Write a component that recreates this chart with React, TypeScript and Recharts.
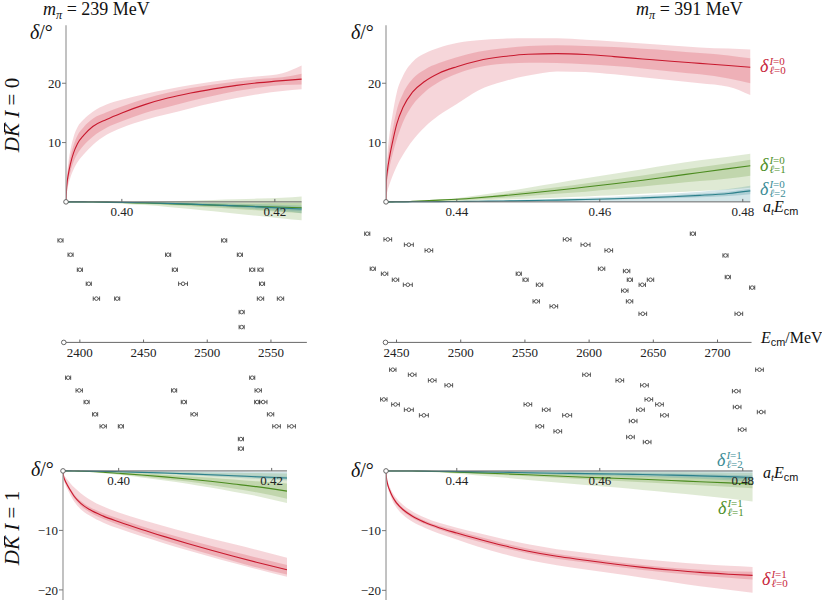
import React from "react";
import {
  Area,
  ComposedChart,
  ErrorBar,
  Line,
  ReferenceDot,
  ReferenceLine,
  Scatter,
  ScatterChart,
  XAxis,
  YAxis,
} from "recharts";

const SERIF = '"Liberation Serif", "DejaVu Serif", serif';
const SANS = '"Liberation Sans", "DejaVu Sans", sans-serif';

// ---------- phase shifts: a_t E_cm grid + centre / 1σ / 2σ bands ----------
// m_pi = 239 MeV, I = 0
const tlX = [0.3927, 0.3928, 0.393, 0.3933, 0.3937, 0.3942, 0.395, 0.3962, 0.398, 0.4, 0.403, 0.406, 0.409, 0.412, 0.415, 0.418, 0.421, 0.4235];
const tlRed = {
  mid: [0, 2.6, 4.6, 6.5, 8.3, 9.8, 11.2, 12.7, 13.9, 15.0, 16.4, 17.5, 18.35, 19.05, 19.65, 20.1, 20.45, 20.7],
  lo2: [0, 1.6, 2.9, 4.2, 5.5, 6.7, 8.0, 9.6, 11.3, 12.5, 13.8, 14.8, 15.8, 16.7, 17.5, 18.2, 18.7, 19.0],
  lo1: [0, 2.0, 3.6, 5.2, 6.8, 8.1, 9.5, 11.0, 12.5, 13.6, 15.0, 16.0, 17.0, 17.9, 18.7, 19.3, 19.7, 19.8],
  hi1: [0, 3.2, 5.6, 7.7, 9.6, 11.2, 12.6, 14.0, 15.1, 16.1, 17.4, 18.4, 19.2, 19.8, 20.3, 20.7, 21.0, 21.6],
  hi2: [0, 3.8, 6.5, 8.9, 11.0, 12.6, 13.9, 15.2, 16.4, 17.2, 18.2, 19.0, 19.7, 20.3, 20.8, 21.2, 21.7, 23.0],
};
const tlGreen = {
  mid: [0, 0, 0, 0, 0, 0, -0.01, -0.02, -0.05, -0.1, -0.2, -0.3, -0.42, -0.55, -0.68, -0.8, -0.92, -1.0],
  lo2: [0, 0, 0, 0, 0, -0.01, -0.03, -0.07, -0.15, -0.3, -0.55, -0.85, -1.2, -1.6, -2.0, -2.4, -2.8, -3.1],
  lo1: [0, 0, 0, 0, 0, 0, -0.02, -0.04, -0.09, -0.18, -0.35, -0.52, -0.72, -0.95, -1.2, -1.45, -1.7, -1.9],
  hi1: [0, 0, 0, 0, 0, 0, 0, -0.01, -0.02, -0.04, -0.08, -0.12, -0.16, -0.2, -0.22, -0.22, -0.2, -0.15],
  hi2: [0, 0, 0, 0, 0, 0, 0, 0, 0, 0.02, 0.06, 0.12, 0.2, 0.3, 0.42, 0.55, 0.7, 0.9],
};
const tlTeal = {
  mid: [0, 0, 0, 0, 0, 0, -0.01, -0.02, -0.04, -0.08, -0.16, -0.26, -0.38, -0.52, -0.68, -0.85, -1.05, -1.2],
  lo2: [0, 0, 0, 0, 0, 0, -0.02, -0.04, -0.07, -0.13, -0.25, -0.4, -0.58, -0.8, -1.05, -1.3, -1.6, -1.9],
  lo1: [0, 0, 0, 0, 0, 0, -0.015, -0.03, -0.055, -0.1, -0.2, -0.33, -0.48, -0.66, -0.86, -1.07, -1.32, -1.55],
  hi1: [0, 0, 0, 0, 0, 0, -0.005, -0.01, -0.025, -0.06, -0.12, -0.2, -0.29, -0.4, -0.52, -0.65, -0.8, -0.9],
  hi2: [0, 0, 0, 0, 0, 0, 0, 0, -0.01, -0.03, -0.07, -0.12, -0.18, -0.25, -0.33, -0.42, -0.52, -0.6],
};

// m_pi = 239 MeV, I = 1
const blX = [0.39272, 0.3928, 0.393, 0.3933, 0.3937, 0.3942, 0.395, 0.3962, 0.398, 0.4, 0.403, 0.406, 0.409, 0.412, 0.415, 0.418, 0.422];
const blRed = {
  mid: [0, -0.9, -1.65, -2.4, -3.3, -4.3, -5.4, -6.5, -7.6, -8.55, -9.85, -11.05, -12.2, -13.3, -14.35, -15.35, -16.6],
  lo2: [0, -1.3, -2.2, -3.1, -4.1, -5.2, -6.4, -7.5, -8.7, -9.7, -11.0, -12.2, -13.35, -14.45, -15.5, -16.5, -17.8],
  lo1: [0, -1.0, -1.85, -2.7, -3.6, -4.65, -5.8, -6.95, -8.1, -9.1, -10.45, -11.7, -12.9, -14.05, -15.15, -16.2, -17.4],
  hi1: [0, -0.8, -1.45, -2.1, -3.0, -3.95, -5.0, -6.05, -7.1, -8.0, -9.3, -10.45, -11.55, -12.6, -13.6, -14.55, -15.8],
  hi2: [0, -0.5, -1.0, -1.5, -2.1, -2.8, -3.7, -4.8, -6.0, -7.0, -8.2, -9.3, -10.35, -11.35, -12.3, -13.25, -14.6],
};
const blGreen = {
  mid: [0, 0, 0, 0, -0.01, -0.02, -0.05, -0.1, -0.22, -0.4, -0.68, -1.0, -1.35, -1.75, -2.2, -2.65, -3.4],
  lo2: [0, 0, 0, 0, -0.02, -0.04, -0.09, -0.18, -0.38, -0.65, -1.1, -1.6, -2.15, -2.8, -3.5, -4.2, -5.4],
  lo1: [0, 0, 0, 0, -0.015, -0.03, -0.07, -0.14, -0.3, -0.55, -0.92, -1.35, -1.8, -2.35, -2.95, -3.6, -4.7],
  hi1: [0, 0, 0, 0, -0.005, -0.01, -0.03, -0.07, -0.15, -0.27, -0.45, -0.65, -0.9, -1.15, -1.45, -1.75, -2.1],
  hi2: [0, 0, 0, 0, 0, 0, -0.01, -0.02, -0.04, -0.07, -0.11, -0.15, -0.2, -0.25, -0.3, -0.35, -0.45],
};
const blTeal = {
  mid: [0, 0, 0, 0, 0, -0.01, -0.02, -0.04, -0.08, -0.14, -0.24, -0.36, -0.5, -0.65, -0.82, -0.98, -1.2],
  lo2: [0, 0, 0, 0, 0, -0.01, -0.03, -0.06, -0.12, -0.2, -0.34, -0.5, -0.68, -0.88, -1.1, -1.32, -1.6],
  lo1: [0, 0, 0, 0, 0, -0.01, -0.025, -0.05, -0.1, -0.17, -0.29, -0.43, -0.59, -0.77, -0.96, -1.15, -1.4],
  hi1: [0, 0, 0, 0, 0, 0, -0.015, -0.03, -0.06, -0.11, -0.19, -0.29, -0.41, -0.53, -0.68, -0.81, -1.0],
  hi2: [0, 0, 0, 0, 0, 0, 0, 0, -0.01, -0.02, -0.04, -0.06, -0.08, -0.1, -0.12, -0.14, -0.16],
};

// m_pi = 391 MeV, I = 0
const trX = [0.4301, 0.43015, 0.4303, 0.4306, 0.431, 0.4316, 0.4325, 0.4338, 0.4355, 0.4375, 0.44, 0.443, 0.4465, 0.45, 0.454, 0.458, 0.462, 0.466, 0.47, 0.474, 0.478, 0.48105];
const trRed = {
  mid: [0, 3.5, 5.3, 7.6, 10.0, 13.1, 16.0, 18.5, 20.3, 21.7, 22.8, 23.8, 24.5, 24.9, 25.0, 24.85, 24.5, 24.1, 23.7, 23.35, 23.0, 22.7],
  lo2: [0, 1.0, 1.8, 3.0, 4.3, 6.0, 8.0, 10.3, 12.6, 14.6, 16.5, 18.8, 20.3, 21.3, 22.0, 21.9, 21.5, 21.0, 20.5, 20.0, 19.4, 18.0],
  lo1: [0, 2.5, 4.0, 5.9, 7.9, 10.5, 13.5, 16.3, 18.5, 20.2, 21.6, 22.7, 23.3, 23.45, 23.4, 23.2, 22.9, 22.5, 22.0, 21.5, 20.8, 20.0],
  hi1: [0, 4.2, 6.5, 9.3, 12.0, 15.4, 18.3, 20.7, 22.3, 23.4, 24.4, 25.3, 25.9, 26.3, 26.4, 26.3, 26.1, 25.8, 25.5, 25.1, 24.7, 24.2],
  hi2: [0, 5.0, 8.0, 11.5, 14.6, 18.4, 21.3, 23.6, 25.0, 26.0, 26.8, 27.25, 27.5, 27.6, 27.6, 27.35, 27.05, 26.7, 26.35, 26.05, 25.85, 25.7],
};
const trGreen = {
  mid: [0, 0, 0, 0, 0, 0.01, 0.03, 0.08, 0.17, 0.3, 0.45, 0.7, 1.05, 1.45, 1.95, 2.5, 3.05, 3.65, 4.3, 4.95, 5.6, 6.1],
  lo2: [0, 0, 0, 0, 0, 0, 0.01, 0.03, 0.06, 0.1, 0.15, 0.25, 0.38, 0.52, 0.7, 0.9, 1.1, 1.35, 1.6, 1.85, 2.1, 2.4],
  lo1: [0, 0, 0, 0, 0, 0.005, 0.02, 0.05, 0.1, 0.18, 0.28, 0.45, 0.7, 0.98, 1.35, 1.72, 2.15, 2.6, 3.05, 3.5, 3.95, 4.4],
  hi1: [0, 0, 0, 0, 0.005, 0.015, 0.04, 0.1, 0.21, 0.36, 0.52, 0.85, 1.3, 1.85, 2.45, 3.1, 3.75, 4.45, 5.15, 5.85, 6.5, 7.1],
  hi2: [0, 0, 0, 0, 0.01, 0.02, 0.05, 0.12, 0.25, 0.42, 0.62, 1.1, 1.7, 2.4, 3.2, 4.0, 4.75, 5.5, 6.3, 7.0, 7.6, 8.1],
};
const trTeal = {
  mid: [0, 0, 0, 0, 0, 0, 0, 0.01, 0.02, 0.04, 0.07, 0.1, 0.15, 0.21, 0.3, 0.4, 0.52, 0.68, 0.87, 1.1, 1.42, 1.85],
  lo2: [0, 0, 0, 0, 0, 0, 0, 0, 0, 0, 0, 0, 0, 0, 0, 0, 0, 0, 0, 0, 0, 0],
  lo1: [0, 0, 0, 0, 0, 0, 0, 0.005, 0.01, 0.02, 0.04, 0.06, 0.09, 0.13, 0.19, 0.26, 0.35, 0.47, 0.6, 0.78, 1.0, 1.3],
  hi1: [0, 0, 0, 0, 0, 0, 0.005, 0.015, 0.03, 0.055, 0.09, 0.13, 0.2, 0.28, 0.39, 0.52, 0.67, 0.86, 1.08, 1.35, 1.72, 2.2],
  hi2: [0, 0, 0, 0, 0, 0, 0.01, 0.02, 0.04, 0.07, 0.12, 0.18, 0.27, 0.38, 0.52, 0.68, 0.87, 1.1, 1.38, 1.7, 2.15, 2.7],
};

// m_pi = 391 MeV, I = 1
const brX = [0.4301, 0.43015, 0.4303, 0.4306, 0.431, 0.4316, 0.4325, 0.4338, 0.4355, 0.4375, 0.44, 0.443, 0.4465, 0.45, 0.454, 0.458, 0.462, 0.466, 0.47, 0.474, 0.478, 0.48137];
const brRed = {
  mid: [0, -1.0, -2.1, -3.2, -4.3, -5.4, -6.5, -7.6, -8.6, -9.5, -10.4, -11.4, -12.5, -13.45, -14.3, -14.95, -15.6, -16.15, -16.6, -17.0, -17.3, -17.5],
  lo2: [0, -1.3, -2.6, -3.8, -5.0, -6.2, -7.4, -8.5, -9.5, -10.5, -11.5, -12.7, -13.9, -14.9, -15.8, -16.5, -17.2, -17.9, -18.6, -19.3, -19.9, -20.4],
  lo1: [0, -1.1, -2.3, -3.4, -4.6, -5.7, -6.8, -7.9, -8.9, -9.8, -10.8, -11.8, -12.9, -13.85, -14.7, -15.35, -16.0, -16.6, -17.1, -17.5, -17.9, -18.2],
  hi1: [0, -0.9, -1.9, -3.0, -4.0, -5.1, -6.2, -7.3, -8.3, -9.2, -10.0, -11.0, -12.1, -13.05, -13.9, -14.55, -15.2, -15.75, -16.2, -16.55, -16.8, -16.9],
  hi2: [0, -0.7, -1.6, -2.6, -3.6, -4.6, -5.7, -6.8, -7.8, -8.7, -9.5, -10.4, -11.4, -12.3, -13.1, -13.7, -14.3, -14.8, -15.2, -15.6, -15.9, -16.1],
};
const brGreen = {
  mid: [0, 0, 0, 0, 0, 0, -0.01, -0.02, -0.05, -0.1, -0.2, -0.32, -0.48, -0.65, -0.85, -1.05, -1.22, -1.4, -1.6, -1.8, -2.0, -2.2],
  lo2: [0, 0, 0, 0, 0, 0, -0.02, -0.05, -0.12, -0.25, -0.45, -0.75, -1.1, -1.5, -1.95, -2.35, -2.75, -3.2, -3.65, -4.1, -4.6, -5.1],
  lo1: [0, 0, 0, 0, 0, 0, -0.01, -0.03, -0.07, -0.15, -0.28, -0.45, -0.67, -0.9, -1.15, -1.4, -1.65, -1.9, -2.15, -2.4, -2.65, -2.9],
  hi1: [0, 0, 0, 0, 0, 0, 0, -0.01, -0.03, -0.06, -0.12, -0.2, -0.3, -0.4, -0.52, -0.63, -0.74, -0.85, -0.95, -1.05, -1.13, -1.2],
  hi2: [0, 0, 0, 0, 0, 0, 0, 0, 0, -0.01, -0.02, -0.04, -0.06, -0.09, -0.12, -0.15, -0.18, -0.21, -0.24, -0.27, -0.29, -0.3],
};
const brTeal = {
  mid: [0, 0, 0, 0, 0, 0, 0, -0.01, -0.03, -0.06, -0.1, -0.15, -0.22, -0.3, -0.38, -0.45, -0.52, -0.6, -0.7, -0.82, -0.96, -1.1],
  lo2: [0, 0, 0, 0, 0, 0, 0, -0.02, -0.05, -0.1, -0.18, -0.27, -0.38, -0.5, -0.62, -0.74, -0.86, -0.99, -1.14, -1.32, -1.55, -1.8],
  lo1: [0, 0, 0, 0, 0, 0, 0, -0.015, -0.04, -0.08, -0.14, -0.21, -0.3, -0.4, -0.5, -0.6, -0.69, -0.8, -0.92, -1.07, -1.25, -1.45],
  hi1: [0, 0, 0, 0, 0, 0, 0, -0.005, -0.02, -0.04, -0.06, -0.09, -0.14, -0.2, -0.26, -0.3, -0.35, -0.4, -0.48, -0.57, -0.67, -0.75],
  hi2: [0, 0, 0, 0, 0, 0, 0, 0, 0, 0, 0, 0, 0, 0, 0, 0, 0, 0, 0, 0, 0, 0],
};

// ---------- finite-volume levels: [E_cm / MeV, row, error] ----------
const levelsL0 = [
  [2384.8, 7.13, 2], [2513.3, 7.13, 2],
  [2392.7, 6.13, 2], [2469.3, 6.13, 2], [2525.6, 6.13, 2],
  [2400.0, 5.08, 2], [2474.6, 5.08, 2], [2535.3, 5.08, 2], [2541.8, 5.08, 2],
  [2407.0, 4.1, 2], [2481.0, 4.1, 3.5], [2543.0, 4.1, 2],
  [2413.0, 3.06, 2.5], [2429.3, 3.06, 2], [2541.8, 3.06, 2.5], [2557.5, 3.06, 2.5],
  [2527.0, 2.12, 2], [2527.0, 1.07, 2],
];
const levelsL1 = [
  [2390.8, -2.47, 2], [2535.3, -2.47, 2],
  [2399.5, -3.36, 2.5], [2474.0, -3.36, 2], [2540.0, -3.36, 2.5],
  [2405.3, -4.17, 2], [2481.6, -4.17, 2], [2539.2, -4.17, 2], [2543.9, -4.17, 3],
  [2412.0, -5.03, 2], [2489.7, -5.03, 2.5], [2549.7, -5.03, 2.5],
  [2418.3, -5.87, 2.5], [2432.2, -5.87, 2], [2554.4, -5.87, 3], [2566.2, -5.87, 3],
  [2526.4, -6.76, 2], [2526.4, -7.43, 2],
];
const levelsR0 = [
  [2427.2, 7.6, 2], [2443.2, 7.2, 3], [2459.6, 6.83, 3.5], [2475.2, 6.43, 3],
  [2582.9, 7.2, 3], [2597.2, 6.83, 3.5], [2615.3, 6.43, 3], [2680.8, 7.6, 2], [2706.2, 6.08, 2],
  [2431.5, 5.15, 2], [2440.7, 4.8, 2.5], [2449.2, 4.38, 2.5], [2458.8, 4.03, 3.5],
  [2545.2, 4.8, 2], [2550.5, 4.38, 2], [2561.4, 4.03, 2.5], [2558.8, 2.87, 2.5], [2572.5, 2.52, 3],
  [2609.7, 5.15, 2.5], [2629.2, 4.99, 2.5], [2631.7, 4.38, 2], [2627.8, 3.62, 2.5], [2631.5, 2.87, 2.5],
  [2641.4, 4.03, 2.5], [2647.8, 4.38, 2.5], [2641.8, 2.0, 3], [2708.0, 4.57, 2], [2727.0, 3.83, 2], [2716.6, 2.0, 3],
];
const levelsR1 = [
  [2447.1, -1.91, 2.5], [2462.2, -2.26, 3], [2477.8, -2.66, 3], [2490.7, -3.0, 3],
  [2598.0, -2.26, 3], [2623.9, -2.66, 3], [2643.1, -3.0, 3], [2732.7, -1.91, 3], [2714.6, -3.41, 3],
  [2440.1, -3.99, 2.5], [2449.2, -4.34, 3], [2459.6, -4.71, 3.5], [2471.3, -5.1, 3.5],
  [2552.3, -4.34, 3], [2566.6, -4.71, 3], [2582.9, -5.1, 3.5], [2561.6, -5.87, 3], [2575.6, -6.22, 3],
  [2646.5, -3.99, 3], [2654.8, -4.34, 3], [2640.0, -4.71, 3], [2658.7, -5.1, 3], [2634.3, -5.5, 3],
  [2632.2, -6.62, 3], [2645.2, -6.97, 3], [2715.3, -4.52, 3], [2734.0, -4.87, 3], [2719.2, -6.1, 3],
];

const aTicks239 = [0.4, 0.42];
const aTicks391 = [0.44, 0.46, 0.48];
const eTicks239 = [2400, 2450, 2500, 2550];
const eTicks391 = [2450, 2500, 2550, 2600, 2650, 2700];

const COLORS = {
  green: { line: "#4b8b1f", fill: "rgb(110,160,60)", text: "#4e8f2a" },
  teal: { line: "#2c808b", fill: "rgb(60,140,155)", text: "#3b8c96" },
  red: { line: "#c8192e", fill: "rgb(215,70,85)", text: "#c8283c" },
};
const KEYS = ["green", "teal", "red"] as const;

type Curve = { mid: number[]; lo2: number[]; lo1: number[]; hi1: number[]; hi2: number[] };

function table(xs: number[], curves: Record<string, Curve>) {
  return xs.map((x, i) => {
    const row: Record<string, unknown> = { x };
    Object.entries(curves).forEach(([k, c]) => {
      row[k] = c.mid[i];
      row[k + "Out"] = [c.lo2[i], c.hi2[i]];
      row[k + "In"] = [c.lo1[i], c.hi1[i]];
    });
    return row;
  });
}

// pixel placement: origin (ox, oy), px per unit (kx, ky)
type Geo = {
  ox: number; oy: number; x0: number; x1: number; kx: number; ky: number;
  dom: [number, number]; ymin: number; ymax: number; yEnd: number; axisW: number;
};

function place(g: Geo) {
  const plotLeft = g.ox + (g.dom[0] - g.x0) * g.kx;
  return {
    left: plotLeft - g.axisW,
    top: g.oy - g.ymax * g.ky,
    width: (g.dom[1] - g.dom[0]) * g.kx + g.axisW,
    height: (g.ymax - g.ymin) * g.ky,
  };
}

const minus = (v: number) => (v < 0 ? `\u2212${Math.abs(v)}` : `${v}`);

function axisMarks(g: Geo, ticks: number[], tickLen: number, fmt: (v: number) => string, yAxis: boolean) {
  const items = [
    <ReferenceLine key="xaxis" segment={[{ x: g.x0, y: 0 }, { x: g.x1, y: 0 }]} stroke="#666" strokeWidth={1} />,
    ...ticks.map((t) => (
      <ReferenceLine
        key={"t" + t}
        segment={[{ x: t, y: 0 }, { x: t, y: tickLen }]}
        stroke="#666"
        strokeWidth={1}
        label={{ value: fmt(t), position: "bottom", offset: 5, fill: "#222", fontSize: 13, fontFamily: SERIF }}
      />
    )),
  ];
  if (yAxis) {
    items.push(
      <ReferenceLine key="yaxis" segment={[{ x: g.x0, y: 0 }, { x: g.x0, y: g.yEnd }]} stroke="#999" strokeWidth={1.2} />
    );
  }
  items.push(<ReferenceDot key="origin" x={g.x0} y={0} r={2.3} fill="#fff" stroke="#555" strokeWidth={0.9} />);
  return items;
}

function PhasePanel({ g, xs, curves, xTicks, yTicks }: { g: Geo; xs: number[]; curves: Record<string, Curve>; xTicks: number[]; yTicks: number[] }) {
  const box = place(g);
  const data = table(xs, curves);
  return (
    <div style={{ position: "absolute", left: box.left, top: box.top }}>
      <ComposedChart width={box.width} height={box.height} data={data} margin={{ top: 0, right: 0, bottom: 0, left: 0 }}>
        <XAxis type="number" dataKey="x" domain={g.dom} allowDataOverflow hide />
        <YAxis
          type="number"
          domain={[g.ymin, g.ymax]}
          allowDataOverflow
          width={g.axisW}
          ticks={yTicks}
          interval={0}
          axisLine={false}
          tickSize={4}
          tickMargin={1}
          tickLine={{ stroke: "#777" }}
          tick={{ fontSize: 13, fontFamily: SERIF, fill: "#222" }}
          tickFormatter={minus}
        />
        {KEYS.flatMap((k) => [
          <Area key={k + "o"} type="monotone" dataKey={k + "Out"} stroke="none" fill={COLORS[k].fill} fillOpacity={0.22} isAnimationActive={false} />,
          <Area key={k + "i"} type="monotone" dataKey={k + "In"} stroke="none" fill={COLORS[k].fill} fillOpacity={0.26} isAnimationActive={false} />,
        ])}
        {KEYS.map((k) => (
          <Line key={k} type="monotone" dataKey={k} stroke={COLORS[k].line} strokeWidth={1.1} dot={false} isAnimationActive={false} />
        ))}
        {axisMarks(g, xTicks, 0.5, (v) => v.toFixed(2), true)}
      </ComposedChart>
    </div>
  );
}

const ring = (p: any) => <circle cx={p.cx} cy={p.cy} r={1.8} fill="#fff" stroke="#333" strokeWidth={0.8} />;

function LevelPanel({ g, upper, lower, ticks }: { g: Geo; upper: number[][]; lower: number[][]; ticks: number[] }) {
  const box = place(g);
  const pts = (a: number[][]) => a.map(([e, row, err]) => ({ e, row, err }));
  return (
    <div style={{ position: "absolute", left: box.left, top: box.top }}>
      <ScatterChart width={box.width} height={box.height} margin={{ top: 0, right: 0, bottom: 0, left: 0 }}>
        <XAxis type="number" dataKey="e" domain={g.dom} allowDataOverflow hide />
        <YAxis type="number" dataKey="row" domain={[g.ymin, g.ymax]} allowDataOverflow hide />
        {axisMarks(g, ticks, 0.2, (v) => String(v), false)}
        {[upper, lower].map((lv, i) => (
          <Scatter key={i} data={pts(lv)} shape={ring} isAnimationActive={false}>
            <ErrorBar dataKey="err" direction="x" width={2.2} strokeWidth={0.8} stroke="#333" />
          </Scatter>
        ))}
      </ScatterChart>
    </div>
  );
}

const gTL: Geo = { ox: 66, oy: 202, x0: 0.3927, x1: 0.4235, kx: 7650, ky: 5.93, dom: [0.3927, 0.4245], ymin: -4.5, ymax: 30.5, yEnd: 29.8, axisW: 44 };
const gTR: Geo = { ox: 385.7, oy: 202, x0: 0.4301, x1: 0.48105, kx: 7150, ky: 5.93, dom: [0.4301, 0.4825], ymin: -4.5, ymax: 30.5, yEnd: 29.8, axisW: 44 };
const gBL: Geo = { ox: 63.3, oy: 471, x0: 0.39272, x1: 0.422, kx: 7650, ky: 5.95, dom: [0.39272, 0.4235], ymin: -21.9, ymax: 2, yEnd: -21.7, axisW: 44 };
const gBR: Geo = { ox: 385.7, oy: 471, x0: 0.4301, x1: 0.48137, kx: 7150, ky: 5.97, dom: [0.4301, 0.4825], ymin: -21.9, ymax: 2, yEnd: -21.6, axisW: 44 };
const gEL: Geo = { ox: 64, oy: 342, x0: 2387.4, x1: 2578.2, kx: 1.274, ky: 14.3, dom: [2375, 2590], ymin: -8, ymax: 8, yEnd: 0, axisW: 0 };
const gER: Geo = { ox: 385, oy: 342, x0: 2441.4, x1: 2726.5, kx: 1.284, ky: 14.3, dom: [2420, 2745], ymin: -8, ymax: 8, yEnd: 0, axisW: 0 };

const abs = (left: number, top: number, extra: React.CSSProperties = {}): React.CSSProperties => ({
  position: "absolute", left, top, whiteSpace: "nowrap", fontFamily: SERIF, color: "#111", ...extra,
});

function Sub({ children, sans }: { children: React.ReactNode; sans?: boolean }) {
  return (
    <span style={{ fontSize: "0.68em", position: "relative", top: "0.3em", fontFamily: sans ? SANS : SERIF, fontStyle: sans ? "normal" : "italic" }}>
      {children}
    </span>
  );
}

function DeltaLabel({ left, top, iso, wave, color }: { left: number; top: number; iso: number; wave: number; color: string }) {
  return (
    <div style={abs(left, top, { color, display: "flex", alignItems: "center", height: 18 })}>
      <span style={{ fontStyle: "italic", fontSize: 18, lineHeight: "18px" }}>δ</span>
      <span style={{ display: "flex", flexDirection: "column", fontSize: 11, lineHeight: "9px", marginLeft: 1 }}>
        <span><i>I</i>={iso}</span>
        <span><i>ℓ</i>={wave}</span>
      </span>
    </div>
  );
}

function Channel({ cy, iso }: { cy: number; iso: number }) {
  return (
    <div style={abs(12, cy, { transform: "translate(-50%, -50%) rotate(-90deg)", fontSize: 21, lineHeight: "22px" })}>
      <i>D</i>
      <i style={{ position: "relative", display: "inline-block" }}>
        K
        <span style={{ position: "absolute", left: "0.22em", right: "0.02em", top: "0.12em", borderTop: "1.2px solid #111" }} />
      </i>
      &nbsp;<i>I</i> = {iso}
    </div>
  );
}

const Mass = ({ left, value }: { left: number; value: number }) => (
  <div style={abs(left, 0, { fontSize: 18, lineHeight: "18px" })}>
    <i>m</i>
    <Sub>π</Sub> = {value} MeV
  </div>
);

const DegLabel = ({ left, top }: { left: number; top: number }) => (
  <div style={abs(left, top, { fontSize: 20, lineHeight: "20px" })}>
    <i>δ</i>/°
  </div>
);

const AtE = ({ left, top }: { left: number; top: number }) => (
  <div style={abs(left, top, { fontSize: 16, lineHeight: "16px" })}>
    <i>a</i>
    <Sub>t</Sub>
    <i>E</i>
    <Sub sans>cm</Sub>
  </div>
);

export default function App() {
  return (
    <div style={{ position: "absolute", left: 0, top: 0, width: 822, height: 603, overflow: "hidden", background: "#fff", fontFamily: SERIF }}>
      <LevelPanel g={gEL} upper={levelsL0} lower={levelsL1} ticks={eTicks239} />
      <LevelPanel g={gER} upper={levelsR0} lower={levelsR1} ticks={eTicks391} />
      <PhasePanel g={gTL} xs={tlX} curves={{ green: tlGreen, teal: tlTeal, red: tlRed }} xTicks={aTicks239} yTicks={[10, 20]} />
      <PhasePanel g={gTR} xs={trX} curves={{ green: trGreen, teal: trTeal, red: trRed }} xTicks={aTicks391} yTicks={[10, 20]} />
      <PhasePanel g={gBL} xs={blX} curves={{ green: blGreen, teal: blTeal, red: blRed }} xTicks={aTicks239} yTicks={[-10, -20]} />
      <PhasePanel g={gBR} xs={brX} curves={{ green: brGreen, teal: brTeal, red: brRed }} xTicks={aTicks391} yTicks={[-10, -20]} />

      <Mass left={43} value={239} />
      <Mass left={636} value={391} />
      <Channel cy={115} iso={0} />
      <Channel cy={528} iso={1} />
      <DegLabel left={30} top={21.5} />
      <DegLabel left={351} top={21.5} />
      <DegLabel left={31} top={458.5} />
      <DegLabel left={351} top={460} />

      <DeltaLabel left={760} top={57} iso={0} wave={0} color={COLORS.red.text} />
      <DeltaLabel left={760} top={156} iso={0} wave={1} color={COLORS.green.text} />
      <DeltaLabel left={760} top={180} iso={0} wave={2} color={COLORS.teal.text} />
      <DeltaLabel left={717} top={451} iso={1} wave={2} color={COLORS.teal.text} />
      <DeltaLabel left={718} top={499} iso={1} wave={1} color={COLORS.green.text} />
      <DeltaLabel left={762} top={570} iso={1} wave={0} color={COLORS.red.text} />
      <AtE left={763} top={199} />
      <AtE left={763} top={465} />
      <div style={abs(761, 329.5, { fontSize: 16, lineHeight: "16px" })}>
        <i>E</i>
        <Sub sans>cm</Sub>/MeV
      </div>
    </div>
  );
}
